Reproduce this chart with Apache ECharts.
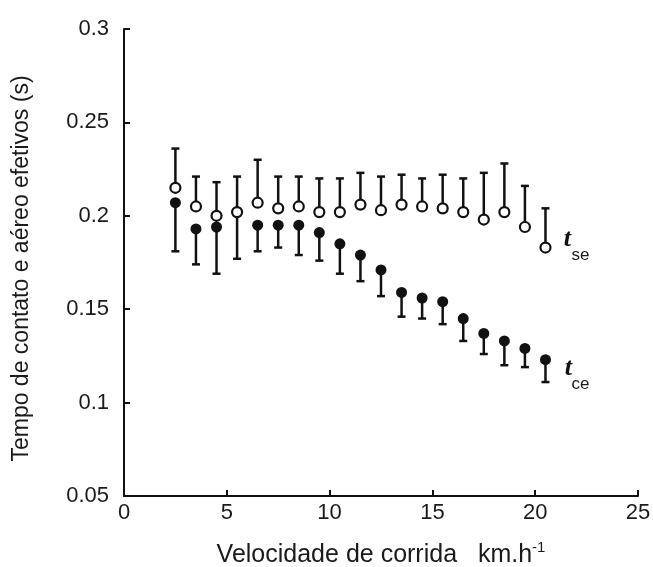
<!DOCTYPE html>
<html>
<head>
<meta charset="utf-8">
<script src="https://cdn.jsdelivr.net/npm/echarts@6/dist/echarts.min.js"></script>
<style>
  html, body { margin: 0; padding: 0; background: #fff; }
  #chart { width: 653px; height: 567px; }
</style>
</head>
<body>
<div id="chart"></div>
<script>
// velocidade (km/h)
const speed = [2.5, 3.5, 4.5, 5.5, 6.5, 7.5, 8.5, 9.5, 10.5, 11.5, 12.5, 13.5, 14.5, 15.5, 16.5, 17.5, 18.5, 19.5, 20.5];
// t_se: media e limite superior (s)
const tseMean = [0.215, 0.205, 0.200, 0.202, 0.207, 0.204, 0.205, 0.202, 0.202, 0.206, 0.203, 0.206, 0.205, 0.204, 0.202, 0.198, 0.202, 0.194, 0.183];
const tseUpper = [0.236, 0.221, 0.218, 0.221, 0.230, 0.221, 0.221, 0.220, 0.220, 0.223, 0.221, 0.222, 0.220, 0.222, 0.220, 0.223, 0.228, 0.216, 0.204];
// t_ce: media e limite inferior (s)
const tceMean = [0.207, 0.193, 0.194, 0.202, 0.195, 0.195, 0.195, 0.191, 0.185, 0.179, 0.171, 0.159, 0.156, 0.154, 0.145, 0.137, 0.133, 0.129, 0.123];
const tceLower = [0.181, 0.174, 0.169, 0.177, 0.181, 0.183, 0.179, 0.176, 0.169, 0.165, 0.157, 0.146, 0.145, 0.142, 0.133, 0.126, 0.120, 0.119, 0.111];

const ink = '#111';
const textColor = '#1a1a1a';

function errorBar(params, api) {
  const p0 = api.coord([api.value(0), api.value(1)]);
  const p1 = api.coord([api.value(0), api.value(2)]);
  const hw = 4;
  return {
    type: 'group',
    children: [
      { type: 'line', shape: { x1: p0[0], y1: p0[1], x2: p1[0], y2: p1[1] }, style: { stroke: ink, lineWidth: 2.5 } },
      { type: 'line', shape: { x1: p1[0] - hw, y1: p1[1], x2: p1[0] + hw, y2: p1[1] }, style: { stroke: ink, lineWidth: 2.5 } }
    ]
  };
}

const chart = echarts.init(document.getElementById('chart'));
chart.setOption({
  animation: false,
  grid: { left: 124, right: 15, top: 29, bottom: 71, outerBoundsMode: 'none' },
  xAxis: {
    type: 'value',
    min: 0,
    max: 25,
    interval: 5,
    name: '{a|Velocidade de corrida   km.h}{b|-1}',
    nameLocation: 'middle',
    nameGap: 44,
    nameTextStyle: {
      rich: {
        a: { fontSize: 25, color: textColor, fontFamily: 'Liberation Sans' },
        b: { fontSize: 15, color: textColor, fontFamily: 'Liberation Sans', padding: [0, 0, 15, 0] }
      }
    },
    axisLine: { show: true, onZero: false, lineStyle: { color: ink, width: 2 } },
    axisTick: { show: true, inside: true, length: 6, lineStyle: { color: ink, width: 2 } },
    axisLabel: { fontSize: 22, color: textColor, fontFamily: 'Liberation Sans', margin: 6 },
    splitLine: { show: false }
  },
  yAxis: {
    type: 'value',
    min: 0.05,
    max: 0.3,
    interval: 0.05,
    name: 'Tempo de contato e aéreo efetivos (s)',
    nameLocation: 'middle',
    nameRotate: 90,
    nameGap: 91,
    nameTextStyle: { fontSize: 23, color: textColor, fontFamily: 'Liberation Sans', padding: [0, 12, 0, 0] },
    axisLine: { show: true, onZero: false, lineStyle: { color: ink, width: 2 } },
    axisTick: { show: true, inside: true, length: 6, lineStyle: { color: ink, width: 2 } },
    axisLabel: {
      fontSize: 22,
      color: textColor,
      fontFamily: 'Liberation Sans',
      margin: 15,
      formatter: v => String(parseFloat(v.toFixed(2)))
    },
    splitLine: { show: false }
  },
  series: [
    {
      name: 'tce-bar',
      type: 'custom',
      renderItem: errorBar,
      encode: { x: 0, y: [1, 2] },
      data: speed.map((x, i) => [x, tceMean[i], tceLower[i]])
    },
    {
      name: 'tce',
      type: 'scatter',
      symbol: 'circle',
      symbolSize: 11,
      itemStyle: { color: ink, opacity: 1 },
      data: speed.map((x, i) => [x, tceMean[i]])
    },
    {
      name: 'tse-bar',
      type: 'custom',
      renderItem: errorBar,
      encode: { x: 0, y: [1, 2] },
      data: speed.map((x, i) => [x, tseMean[i], tseUpper[i]])
    },
    {
      name: 'tse',
      type: 'scatter',
      symbol: 'circle',
      symbolSize: 10,
      itemStyle: { color: '#fff', borderColor: ink, borderWidth: 2.2, opacity: 1 },
      data: speed.map((x, i) => [x, tseMean[i]])
    }
  ]
});

// rotulos t_se / t_ce junto ao ultimo ponto
const n = speed.length;
const pSe = chart.convertToPixel({ gridIndex: 0 }, [speed[n - 1], tseMean[n - 1]]);
const pCe = chart.convertToPixel({ gridIndex: 0 }, [speed[n - 1], tceMean[n - 1]]);
const tStyle = { fill: ink, font: 'italic bold 26px "Liberation Serif"', textAlign: 'center', textVerticalAlign: 'middle' };
const subStyle = { fill: textColor, font: '17px "Liberation Sans"', textAlign: 'center', textVerticalAlign: 'middle' };
chart.setOption({
  graphic: [
    { type: 'text', x: pSe[0] + 22, y: pSe[1] - 8, style: Object.assign({ text: 't' }, tStyle) },
    { type: 'text', x: pSe[0] + 35, y: pSe[1] + 8, style: Object.assign({ text: 'se' }, subStyle) },
    { type: 'text', x: pCe[0] + 23, y: pCe[1] + 9, style: Object.assign({ text: 't' }, tStyle) },
    { type: 'text', x: pCe[0] + 35, y: pCe[1] + 25, style: Object.assign({ text: 'ce' }, subStyle) }
  ]
});
</script>
</body>
</html>
